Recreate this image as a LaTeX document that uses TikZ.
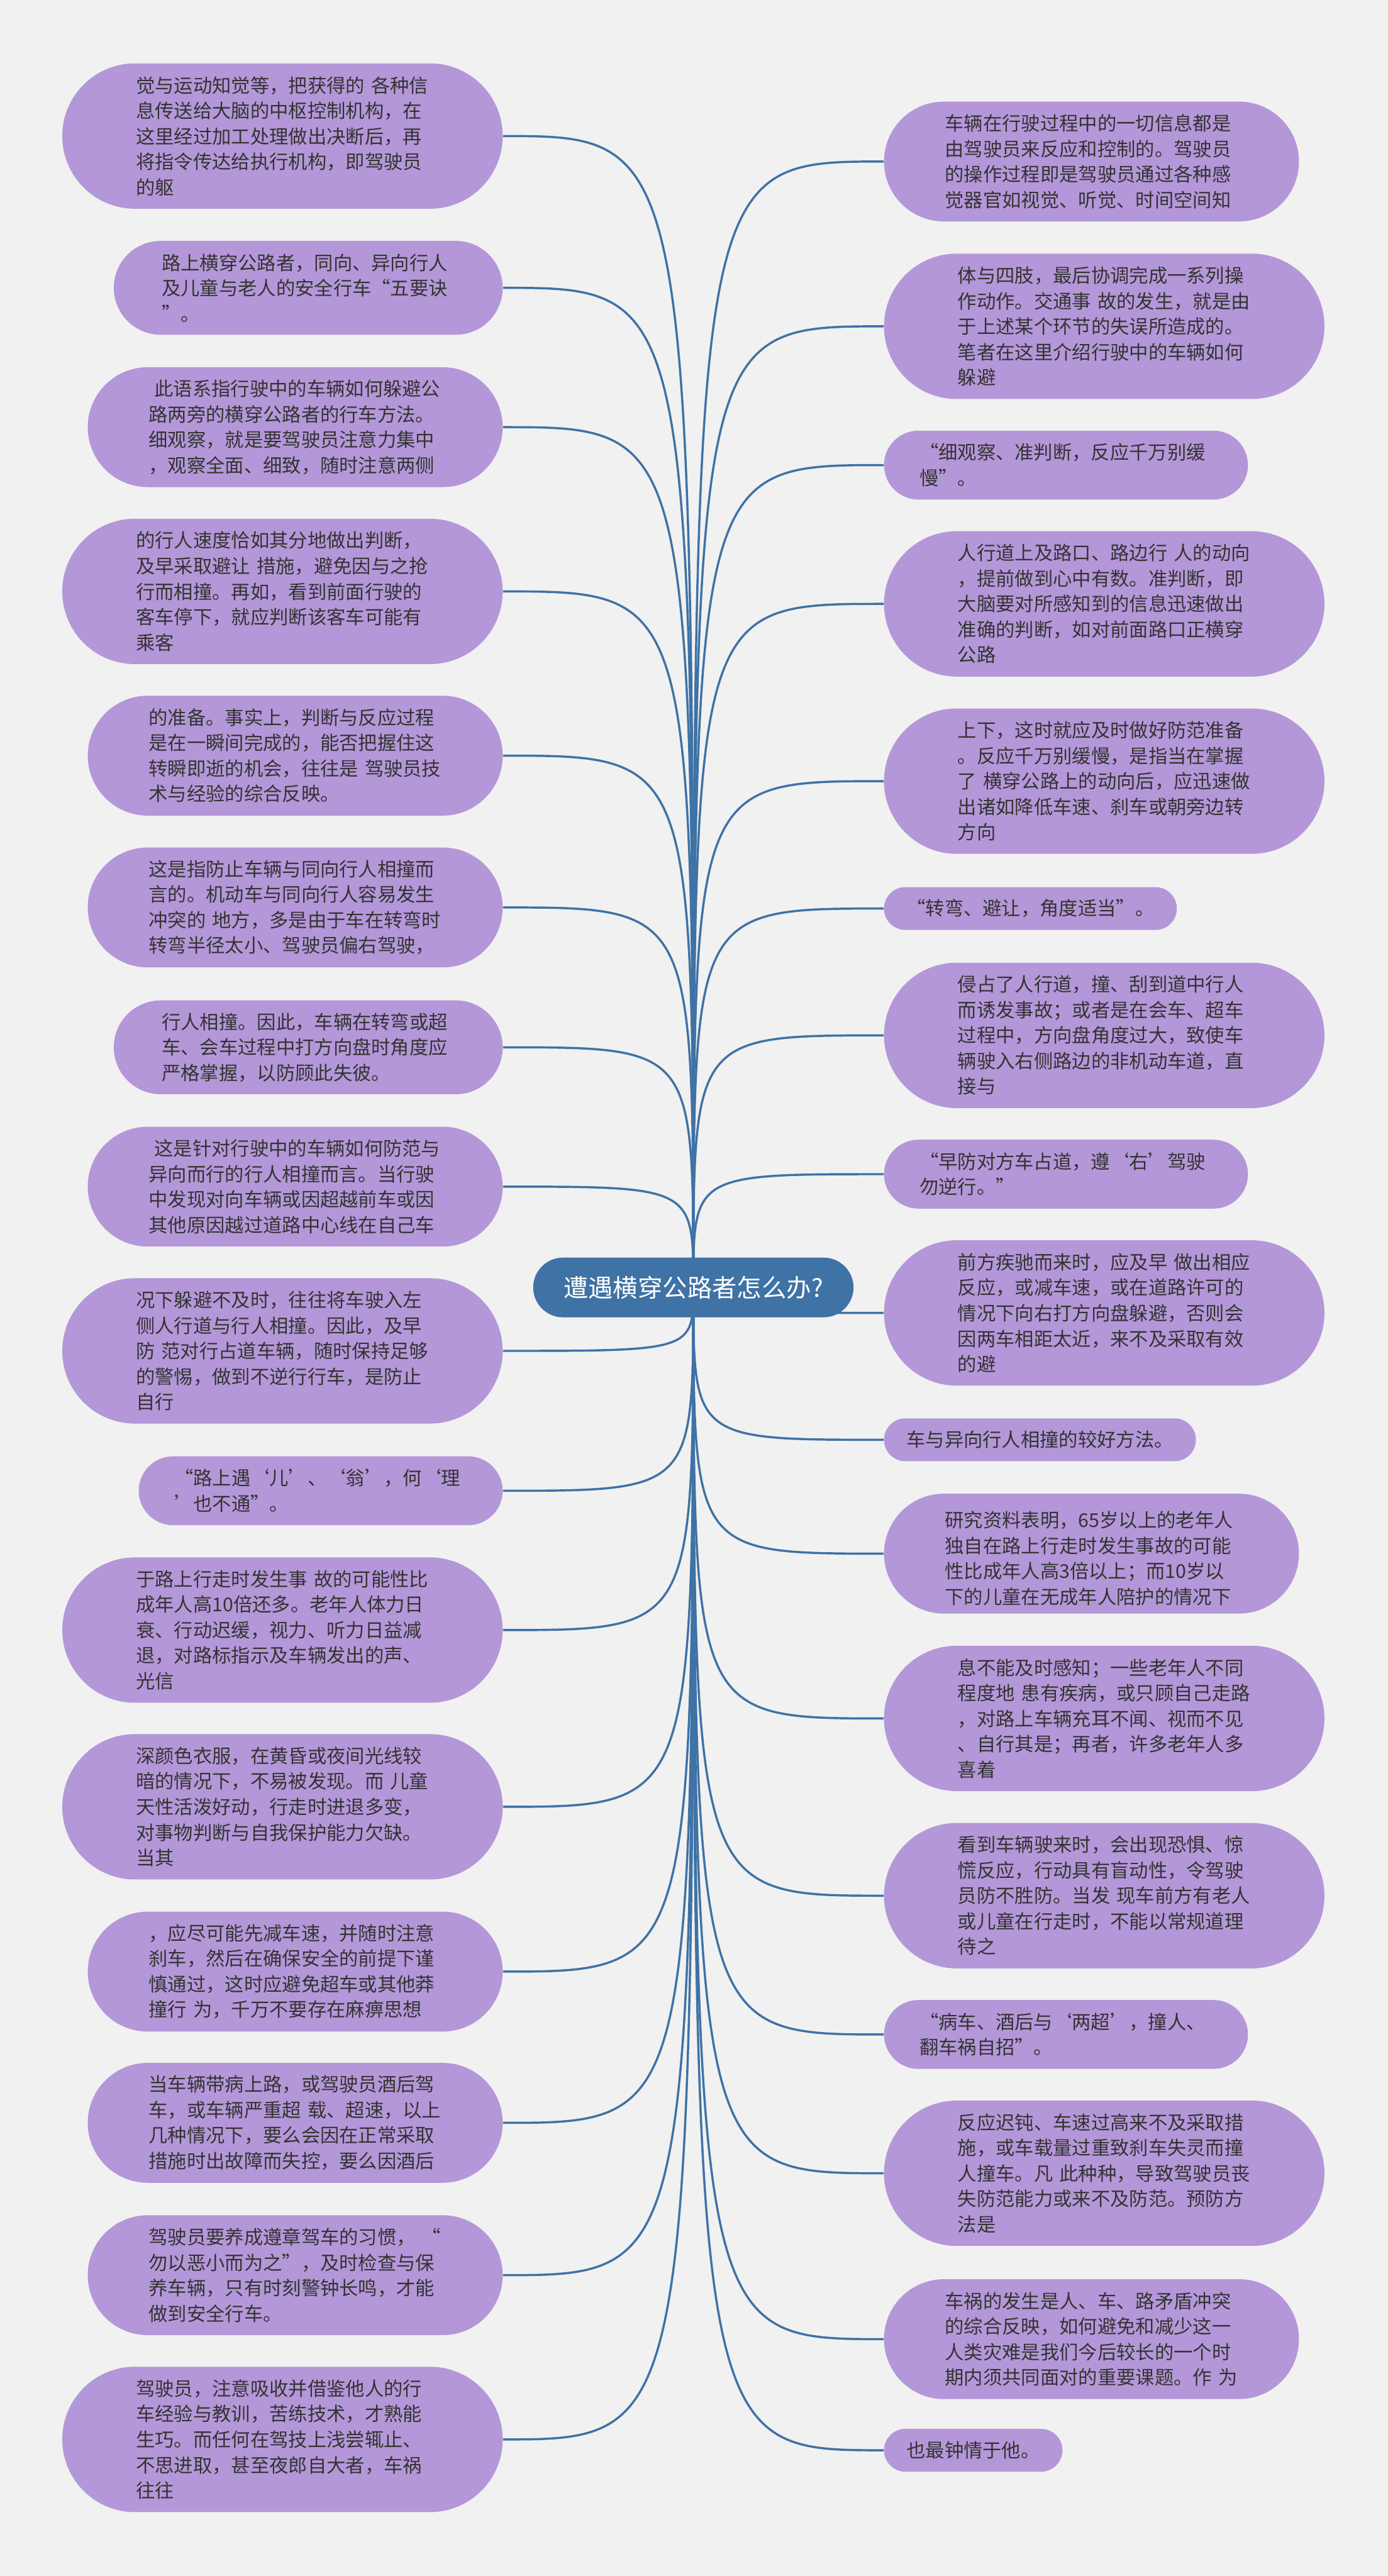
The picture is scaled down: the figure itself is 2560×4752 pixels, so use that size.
\documentclass[tikz,border=0pt]{standalone}
\usepackage{fontspec}
\setmainfont{Noto Sans CJK SC}
\definecolor{bgc}{RGB}{241,241,241}
\definecolor{leafc}{RGB}{180,151,216}
\definecolor{rootc}{RGB}{63,114,165}
\definecolor{txtc}{RGB}{51,51,51}
\pgfdeclarelayer{bottom}
\pgfdeclarelayer{background}
\pgfsetlayers{bottom,background,main}
\newcommand{\leaffont}{\fontsize{10pt}{13.37pt}\selectfont}
\newcommand{\rootfont}{\fontsize{13pt}{15pt}\selectfont}
\tikzset{
  leaf/.style={rectangle, fill=leafc, text=txtc, inner ysep=0.05cm, font=\leaffont, align=left},
  multi/.style={leaf, text width=5.4cm},
  nA/.style={leaf, minimum height=0.79cm, rounded corners=0.395cm, inner xsep=0.415cm},
  nB/.style={multi, minimum height=1.27cm, rounded corners=0.635cm, inner xsep=0.655cm},
  nC/.style={multi, minimum height=1.73cm, rounded corners=0.865cm, inner xsep=0.885cm},
  nD/.style={multi, minimum height=2.21cm, rounded corners=1.105cm, inner xsep=1.125cm},
  nE/.style={multi, minimum height=2.68cm, rounded corners=1.34cm, inner xsep=1.36cm},
  lft/.style={anchor=east},
  rgt/.style={anchor=west},
  link/.style={draw=rootc, line width=0.04cm},
  rootnode/.style={rectangle, rounded corners=0.55cm, fill=rootc, text=white, font=\rootfont, minimum height=1.1cm, inner xsep=0.56cm}
}
\begin{document}
\begin{tikzpicture}[x=0.01cm,y=-0.01cm]
\begin{pgfonlayer}{bottom}
\fill[bgc] (0,0) rectangle (2560,4752);
\end{pgfonlayer}
\useasboundingbox (0,0) rectangle (2560,4752);

\node[rootnode] (root) at (1279,2375) {遭遇横穿公路者怎么办?};

% left column
\node[nE,lft] (L1) at (928,251) {觉与运动知觉等，把获得的~各种信\\息传送给大脑的中枢控制机构，在\\这里经过加工处理做出决断后，再\\将指令传达给执行机构，即驾驶员\\的躯};
\node[nC,lft] (L2) at (928,531) {路上横穿公路者，同向、异向行人\\及儿童与老人的安全行车“五要诀\\”。};
\node[nD,lft] (L3) at (928,788) {\hspace{0.3em}此语系指行驶中的车辆如何躲避公\\路两旁的横穿公路者的行车方法。\\细观察，就是要驾驶员注意力集中\\，观察全面、细致，随时注意两侧};
\node[nE,lft] (L4) at (928,1091) {的行人速度恰如其分地做出判断，\\及早采取避让~措施，避免因与之抢\\行而相撞。再如，看到前面行驶的\\客车停下，就应判断该客车可能有\\乘客};
\node[nD,lft] (L5) at (928,1394) {的准备。事实上，判断与反应过程\\是在一瞬间完成的，能否把握住这\\转瞬即逝的机会，往往是~驾驶员技\\术与经验的综合反映。};
\node[nD,lft] (L6) at (928,1674) {这是指防止车辆与同向行人相撞而\\言的。机动车与同向行人容易发生\\冲突的~地方，多是由于车在转弯时\\转弯半径太小、驾驶员偏右驾驶，};
\node[nC,lft] (L7) at (928,1932) {行人相撞。因此，车辆在转弯或超\\车、会车过程中打方向盘时角度应\\严格掌握，以防顾此失彼。};
\node[nD,lft] (L8) at (928,2189) {\hspace{0.3em}这是针对行驶中的车辆如何防范与\\异向而行的行人相撞而言。当行驶\\中发现对向车辆或因超越前车或因\\其他原因越过道路中心线在自己车};
\node[nE,lft] (L9) at (928,2492) {况下躲避不及时，往往将车驶入左\\侧人行道与行人相撞。因此，及早\\防~范对行占道车辆，随时保持足够\\的警惕，做到不逆行行车，是防止\\自行};
\node[nB,lft] (L10) at (928,2750) {“路上遇‘儿’、‘翁’，何‘理\\’也不通”。};
\node[nE,lft] (L11) at (928,3007) {于路上行走时发生事~故的可能性比\\成年人高10倍还多。老年人体力日\\衰、行动迟缓，视力、听力日益减\\退，对路标指示及车辆发出的声、\\光信};
\node[nE,lft] (L12) at (928,3333) {深颜色衣服，在黄昏或夜间光线较\\暗的情况下，不易被发现。而~儿童\\天性活泼好动，行走时进退多变，\\对事物判断与自我保护能力欠缺。\\当其};
\node[nD,lft] (L13) at (928,3637) {，应尽可能先减车速，并随时注意\\刹车，然后在确保安全的前提下谨\\慎通过，这时应避免超车或其他莽\\撞行~为，千万不要存在麻痹思想};
\node[nD,lft] (L14) at (928,3916) {当车辆带病上路，或驾驶员酒后驾\\车，或车辆严重超~载、超速，以上\\几种情况下，要么会因在正常采取\\措施时出故障而失控，要么因酒后};
\node[nD,lft] (L15) at (928,4197) {驾驶员要养成遵章驾车的习惯，~“\\勿以恶小而为之”，及时检查与保\\养车辆，只有时刻警钟长鸣，才能\\做到安全行车。};
\node[nE,lft] (L16) at (928,4500) {驾驶员，注意吸收并借鉴他人的行\\车经验与教训，苦练技术，才熟能\\生巧。而任何在驾技上浅尝辄止、\\不思进取，甚至夜郎自大者，车祸\\往往};

% right column
\node[nD,rgt] (R1) at (1630,298) {车辆在行驶过程中的一切信息都是\\由驾驶员来反应和控制的。驾驶员\\的操作过程即是驾驶员通过各种感\\觉器官如视觉、听觉、时间空间知};
\node[nE,rgt] (R2) at (1630,602) {体与四肢，最后协调完成一系列操\\作动作。交通事~故的发生，就是由\\于上述某个环节的失误所造成的。\\笔者在这里介绍行驶中的车辆如何\\躲避};
\node[nB,rgt] (R3) at (1630,858) {“细观察、准判断，反应千万别缓\\慢”。};
\node[nE,rgt] (R4) at (1630,1114) {人行道上及路口、路边行~人的动向\\，提前做到心中有数。准判断，即\\大脑要对所感知到的信息迅速做出\\准确的判断，如对前面路口正横穿\\公路};
\node[nE,rgt] (R5) at (1630,1441) {上下，这时就应及时做好防范准备\\。反应千万别缓慢，是指当在掌握\\了~横穿公路上的动向后，应迅速做\\出诸如降低车速、刹车或朝旁边转\\方向};
\node[nA,rgt] (R6) at (1630,1676) {“转弯、避让，角度适当”。};
\node[nE,rgt] (R7) at (1630,1910) {侵占了人行道，撞、刮到道中行人\\而诱发事故；或者是在会车、超车\\过程中，方向盘角度过大，致使车\\辆驶入右侧路边的非机动车道，直\\接与};
\node[nB,rgt] (R8) at (1630,2166) {“早防对方车占道，遵‘右’驾驶\\勿逆行。”};
\node[nE,rgt] (R9) at (1630,2422) {前方疾驰而来时，应及早~做出相应\\反应，或减车速，或在道路许可的\\情况下向右打方向盘躲避，否则会\\因两车相距太近，来不及采取有效\\的避};
\node[nA,rgt] (R10) at (1630,2656) {车与异向行人相撞的较好方法。};
\node[nD,rgt] (R11) at (1630,2866) {\hspace{0.3em}研究资料表明，65岁以上的老年人\\独自在路上行走时发生事故的可能\\性比成年人高3倍以上；而10岁以\\下的儿童在无成年人陪护的情况下};
\node[nE,rgt] (R12) at (1630,3170) {息不能及时感知；一些老年人不同\\程度地~患有疾病，或只顾自己走路\\，对路上车辆充耳不闻、视而不见\\、自行其是；再者，许多老年人多\\喜着};
\node[nE,rgt] (R13) at (1630,3497) {看到车辆驶来时，会出现恐惧、惊\\慌反应，行动具有盲动性，令驾驶\\员防不胜防。当发~现车前方有老人\\或儿童在行走时，不能以常规道理\\待之};
\node[nB,rgt] (R14) at (1630,3753) {“病车、酒后与‘两超’，撞人、\\翻车祸自招”。};
\node[nE,rgt] (R15) at (1630,4009) {反应迟钝、车速过高来不及采取措\\施，或车载量过重致刹车失灵而撞\\人撞车。凡~此种种，导致驾驶员丧\\失防范能力或来不及防范。预防方\\法是};
\node[nD,rgt] (R16) at (1630,4315) {车祸的发生是人、车、路矛盾冲突\\的综合反映，如何避免和减少这一\\人类灾难是我们今后较长的一个时\\期内须共同面对的重要课题。作~为};
\node[nA,rgt] (R17) at (1630,4520) {也最钟情于他。};

\begin{pgfonlayer}{background}
\foreach \i in {1,...,16}
  \draw[link] (root.center) .. controls (root.center |- L\i.east) .. (L\i.east);
\foreach \i in {1,...,17}
  \draw[link] (root.center) .. controls (root.center |- R\i.west) .. (R\i.west);
\end{pgfonlayer}
\end{tikzpicture}
\end{document}
